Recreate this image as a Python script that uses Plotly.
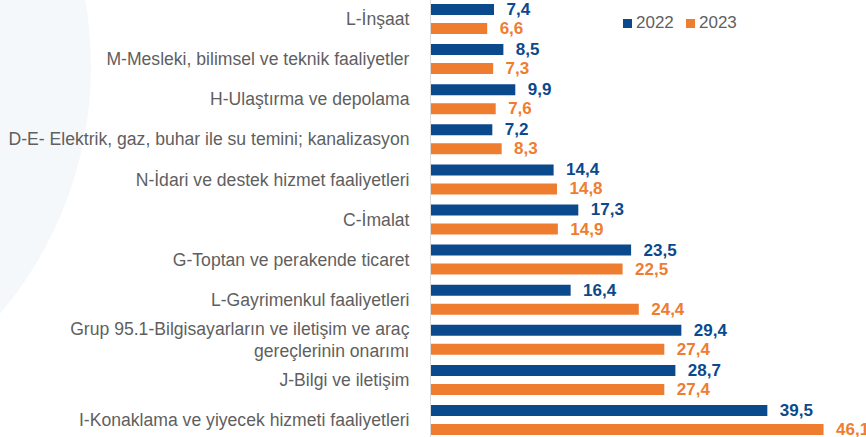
import plotly.graph_objects as go

categories = [
    "L-İnşaat",
    "M-Mesleki, bilimsel ve teknik faaliyetler",
    "H-Ulaştırma ve depolama",
    "D-E- Elektrik, gaz, buhar ile su temini; kanalizasyon",
    "N-İdari ve destek hizmet faaliyetleri",
    "C-İmalat",
    "G-Toptan ve perakende ticaret",
    "L-Gayrimenkul faaliyetleri",
    "Grup 95.1-Bilgisayarların ve iletişim ve araç<br>gereçlerinin onarımı",
    "J-Bilgi ve iletişim",
    "I-Konaklama ve yiyecek hizmeti faaliyetleri",
]
series_names = ["2022", "2023"]
values_2022 = [7.4, 8.5, 9.9, 7.2, 14.4, 17.3, 23.5, 16.4, 29.4, 28.7, 39.5]
values_2023 = [6.6, 7.3, 7.6, 8.3, 14.8, 14.9, 22.5, 24.4, 27.4, 27.4, 46.1]

BLUE = "#0a4a8c"
ORANGE = "#ef7d30"
GRAY = "#5f5f5f"
FONT = "Liberation Sans, Arial, sans-serif"

W, H = 866, 437
L_MARGIN = 431
PLOT_W = W - L_MARGIN


def px_x(px):  # page pixel -> paper
    return (px - L_MARGIN) / PLOT_W


def px_y(py):
    return 1 - py / H


fig = go.Figure()
for name, vals, col in [(series_names[0], values_2022, BLUE), (series_names[1], values_2023, ORANGE)]:
    fig.add_trace(go.Bar(
        y=categories, x=vals, name=name, orientation="h",
        marker=dict(color=col, line=dict(width=0)),
        texttemplate="\u00a0\u00a0%{x:.1f}", textposition="outside",
        constraintext="none",
        textfont=dict(color=col, size=17, family=FONT, weight="bold"),
        cliponaxis=False, showlegend=False, hoverinfo="skip",
    ))

# faint decorative background arc on the left
shapes = [dict(
    type="circle", xref="paper", yref="paper", layer="below",
    x0=px_x(-292 - 383), x1=px_x(-292 + 383),
    y0=px_y(66 + 383), y1=px_y(66 - 383),
    fillcolor="#f5f8fb", line=dict(width=0),
)]

# manual legend
annotations = []
legend_items = [(623, BLUE, series_names[0]), (686, ORANGE, series_names[1])]
for sx, col, name in legend_items:
    shapes.append(dict(type="rect", xref="paper", yref="paper",
                       x0=px_x(sx), x1=px_x(sx + 9), y0=px_y(28), y1=px_y(19),
                       fillcolor=col, line=dict(width=0)))
    annotations.append(dict(xref="paper", yref="paper", x=px_x(sx + 11), y=px_y(22.5),
                            xanchor="left", yanchor="middle", text=name, showarrow=False,
                            font=dict(size=17, color=GRAY, family=FONT)))

pitch = 40.1
r_top = -19 / pitch
r_bot = 10 + (437 - 420) / pitch

fig.update_layout(
    width=W, height=H,
    margin=dict(l=L_MARGIN, r=0, t=0, b=0, autoexpand=False),
    barmode="group", bargap=0.052, bargroupgap=0.42,
    separators=",.",
    paper_bgcolor="white", plot_bgcolor="rgba(0,0,0,0)",
    font=dict(family=FONT, color=GRAY, size=17.6),
    showlegend=False,
    shapes=shapes,
    annotations=annotations,
)
fig.update_yaxes(range=[r_bot, r_top], showline=True, linecolor="#d9d9d9", linewidth=1,
                 ticks="", showgrid=False, ticklabelstandoff=17, automargin=False,
                 tickfont=dict(size=17.6, color=GRAY, family=FONT))
fig.update_xaxes(range=[0, PLOT_W / 8.515], visible=False, showgrid=False, automargin=False)

fig.write_html("out.html",
               config={"displayModeBar": False, "staticPlot": True},
               post_script="document.body.style.margin='0px';document.body.style.overflow='hidden';")
